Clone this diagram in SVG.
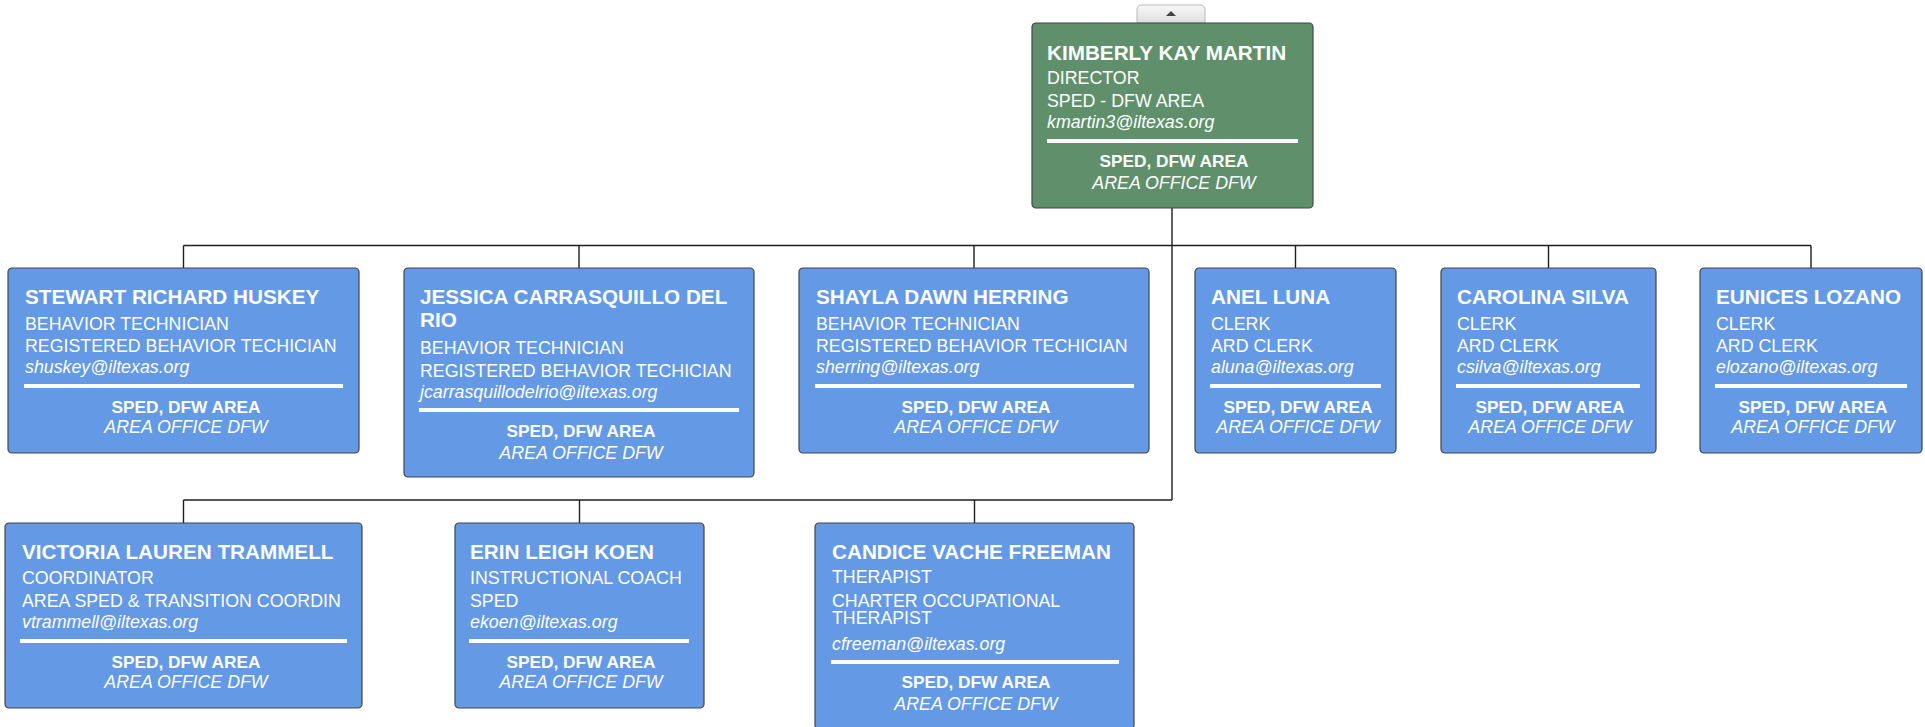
<svg xmlns="http://www.w3.org/2000/svg" width="1925" height="727" viewBox="0 0 1925 727">
<defs>
<linearGradient id="tabg" x1="0" y1="0" x2="0" y2="1">
<stop offset="0" stop-color="#f8f8f8"/>
<stop offset="1" stop-color="#dedede"/>
</linearGradient>
<style>
.box{fill:#6499e6;stroke:#454545;stroke-width:1.2}
.green{fill:#5f906b;stroke:#454545;stroke-width:1.2}
text{fill:#ffffff;font-family:"Liberation Sans",Arial,Helvetica,sans-serif}
.nm{font-size:20.7px;font-weight:bold}
.t{font-size:17.8px}
.em{font-size:17.8px;font-style:italic}
.ft{font-size:17.3px;font-weight:bold;text-anchor:middle}
.fi{font-size:17.8px;font-style:italic;text-anchor:middle}
.sep{fill:#ffffff}
.con{fill:none;stroke:#1e1e1e;stroke-width:1.4}
</style>
</defs>
<rect width="1925" height="727" fill="#ffffff"/>

<g id="connectors">
<path class="con" d="M1172 208 V500"/>
<path class="con" d="M183.5 245.5 H1811"/>
<path class="con" d="M183.5 245.5 V268 M579 245.5 V268 M974 245.5 V268 M1295.5 245.5 V268 M1548.5 245.5 V268 M1811 245.5 V268"/>
<path class="con" d="M183.5 500 H1172"/>
<path class="con" d="M183.5 500 V523 M579.5 500 V523 M974.5 500 V523"/>
</g>

<g id="collapse-tab">
<path d="M1137 23 V10 Q1137 5 1142 5 H1200 Q1205 5 1205 10 V23 Z" fill="url(#tabg)" stroke="#b8b8b8" stroke-width="1"/>
<polygon points="1166,16 1176,16 1171,11" fill="#444444"/>
</g>

<g id="n-martin" transform="translate(1032,23)">
<rect class="green" width="281" height="185" rx="4"/>
<text class="nm" x="15" y="37">KIMBERLY KAY MARTIN</text>
<text class="t" x="15" y="61">DIRECTOR</text>
<text class="t" x="15" y="84">SPED - DFW AREA</text>
<text class="em" x="15" y="105">kmartin3@iltexas.org</text>
<rect class="sep" x="15" y="116" width="251" height="4"/>
<text class="ft" x="142" y="144">SPED, DFW AREA</text>
<text class="fi" x="142" y="166">AREA OFFICE DFW</text>
</g>

<g id="n-huskey" transform="translate(8,268)">
<rect class="box" width="351" height="185" rx="4"/>
<text class="nm" x="17" y="36">STEWART RICHARD HUSKEY</text>
<text class="t" x="17" y="62">BEHAVIOR TECHNICIAN</text>
<text class="t" x="17" y="84">REGISTERED BEHAVIOR TECHICIAN</text>
<text class="em" x="17" y="105">shuskey@iltexas.org</text>
<rect class="sep" x="16" y="116" width="319" height="4"/>
<text class="ft" x="178" y="144.5">SPED, DFW AREA</text>
<text class="fi" x="178" y="165">AREA OFFICE DFW</text>
</g>

<g id="n-carrasquillo" transform="translate(404,268)">
<rect class="box" width="350" height="209" rx="4"/>
<text class="nm" x="16" y="36">JESSICA CARRASQUILLO DEL</text>
<text class="nm" x="16" y="59">RIO</text>
<text class="t" x="16" y="86">BEHAVIOR TECHNICIAN</text>
<text class="t" x="16" y="109">REGISTERED BEHAVIOR TECHICIAN</text>
<text class="em" x="16" y="130">jcarrasquillodelrio@iltexas.org</text>
<rect class="sep" x="15" y="140" width="320" height="4"/>
<text class="ft" x="177" y="169">SPED, DFW AREA</text>
<text class="fi" x="177" y="191">AREA OFFICE DFW</text>
</g>

<g id="n-herring" transform="translate(799,268)">
<rect class="box" width="350" height="185" rx="4"/>
<text class="nm" x="17" y="36">SHAYLA DAWN HERRING</text>
<text class="t" x="17" y="62">BEHAVIOR TECHNICIAN</text>
<text class="t" x="17" y="84">REGISTERED BEHAVIOR TECHICIAN</text>
<text class="em" x="17" y="105">sherring@iltexas.org</text>
<rect class="sep" x="16" y="116" width="319" height="4"/>
<text class="ft" x="177" y="144.5">SPED, DFW AREA</text>
<text class="fi" x="177" y="165">AREA OFFICE DFW</text>
</g>

<g id="n-luna" transform="translate(1195,268)">
<rect class="box" width="201" height="185" rx="4"/>
<text class="nm" x="16" y="36">ANEL LUNA</text>
<text class="t" x="16" y="62">CLERK</text>
<text class="t" x="16" y="84">ARD CLERK</text>
<text class="em" x="16" y="105">aluna@iltexas.org</text>
<rect class="sep" x="15" y="116" width="171" height="4"/>
<text class="ft" x="103" y="144.5">SPED, DFW AREA</text>
<text class="fi" x="103" y="165">AREA OFFICE DFW</text>
</g>

<g id="n-silva" transform="translate(1441,268)">
<rect class="box" width="215" height="185" rx="4"/>
<text class="nm" x="16" y="36">CAROLINA SILVA</text>
<text class="t" x="16" y="62">CLERK</text>
<text class="t" x="16" y="84">ARD CLERK</text>
<text class="em" x="16" y="105">csilva@iltexas.org</text>
<rect class="sep" x="15" y="116" width="184" height="4"/>
<text class="ft" x="109" y="144.5">SPED, DFW AREA</text>
<text class="fi" x="109" y="165">AREA OFFICE DFW</text>
</g>

<g id="n-lozano" transform="translate(1700,268)">
<rect class="box" width="222" height="185" rx="4"/>
<text class="nm" x="16" y="36">EUNICES LOZANO</text>
<text class="t" x="16" y="62">CLERK</text>
<text class="t" x="16" y="84">ARD CLERK</text>
<text class="em" x="16" y="105">elozano@iltexas.org</text>
<rect class="sep" x="15" y="116" width="192" height="4"/>
<text class="ft" x="113" y="144.5">SPED, DFW AREA</text>
<text class="fi" x="113" y="165">AREA OFFICE DFW</text>
</g>

<g id="n-trammell" transform="translate(5,523)">
<rect class="box" width="357" height="185" rx="4"/>
<text class="nm" x="17" y="35.5">VICTORIA LAUREN TRAMMELL</text>
<text class="t" x="17" y="61">COORDINATOR</text>
<text class="t" x="17" y="84">AREA SPED &amp; TRANSITION COORDIN</text>
<text class="em" x="17" y="105">vtrammell@iltexas.org</text>
<rect class="sep" x="15" y="116" width="327" height="4"/>
<text class="ft" x="181" y="144.5">SPED, DFW AREA</text>
<text class="fi" x="181" y="165">AREA OFFICE DFW</text>
</g>

<g id="n-koen" transform="translate(455,523)">
<rect class="box" width="249" height="185" rx="4"/>
<text class="nm" x="15" y="35.5">ERIN LEIGH KOEN</text>
<text class="t" x="15" y="61">INSTRUCTIONAL COACH</text>
<text class="t" x="15" y="84">SPED</text>
<text class="em" x="15" y="105">ekoen@iltexas.org</text>
<rect class="sep" x="14" y="116" width="220" height="4"/>
<text class="ft" x="126" y="144.5">SPED, DFW AREA</text>
<text class="fi" x="126" y="165">AREA OFFICE DFW</text>
</g>

<g id="n-freeman" transform="translate(815,523)">
<rect class="box" width="319" height="206" rx="4"/>
<text class="nm" x="17" y="35.5">CANDICE VACHE FREEMAN</text>
<text class="t" x="17" y="60">THERAPIST</text>
<text class="t" x="17" y="84">CHARTER OCCUPATIONAL</text>
<text class="t" x="17" y="101">THERAPIST</text>
<text class="em" x="17" y="127">cfreeman@iltexas.org</text>
<rect class="sep" x="16" y="137" width="288" height="4"/>
<text class="ft" x="161" y="165">SPED, DFW AREA</text>
<text class="fi" x="161" y="187">AREA OFFICE DFW</text>
</g>
</svg>
